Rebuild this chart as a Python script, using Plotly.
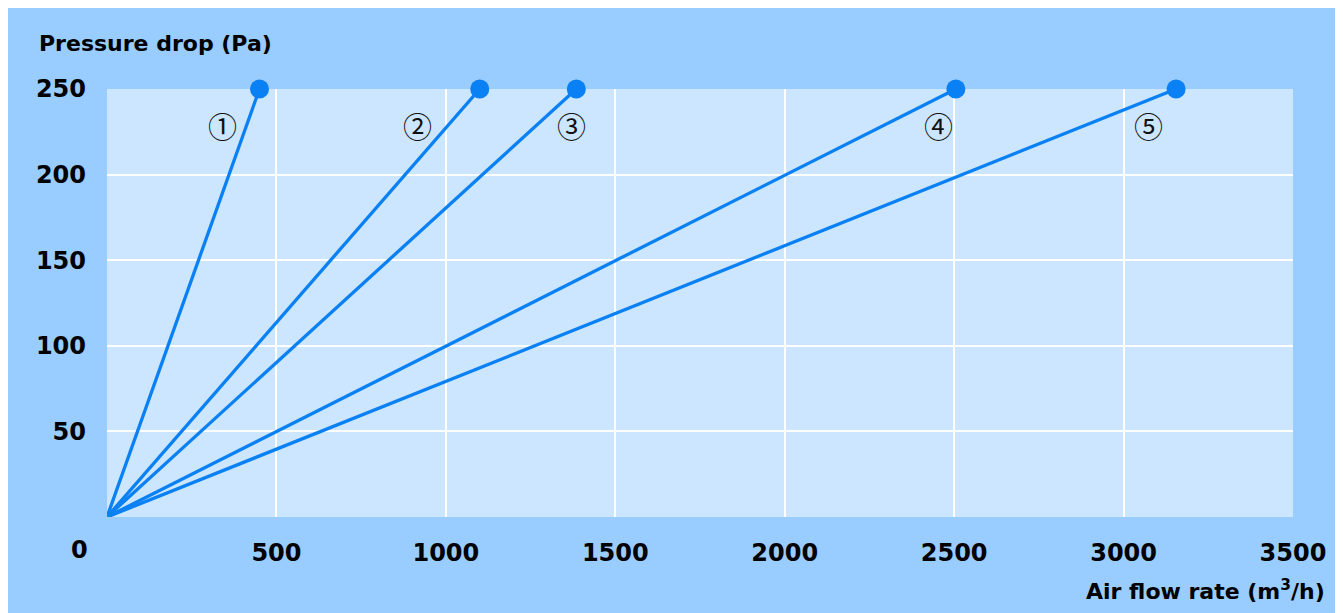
import plotly.graph_objects as go

# ---- data ----
series_labels = ["\u2460", "\u2461", "\u2462", "\u2463", "\u2464"]
start_flow = [0, 0, 0, 0, 0]
start_dp = [0, 0, 0, 0, 0]
end_flow = [450, 1100, 1385, 2505, 3155]
end_dp = [250, 250, 250, 250, 250]
label_flow = [340, 915, 1370, 2455, 3075]
label_dp = [229, 229, 229, 229, 229]
x_ticks = [500, 1000, 1500, 2000, 2500, 3000, 3500]
y_ticks = [50, 100, 150, 200, 250]

LINE = "#0a80f5"
OUTER = "#99ccff"
INNER = "#cce6ff"
FONT = "DejaVu Sans"

fig = go.Figure()
for i in range(len(series_labels)):
    fig.add_trace(go.Scatter(
        x=[start_flow[i], end_flow[i]], y=[start_dp[i], end_dp[i]],
        mode="lines", line=dict(color=LINE, width=3.3),
        showlegend=False, hoverinfo="skip", cliponaxis=False))
fig.add_trace(go.Scatter(
    x=end_flow, y=end_dp, mode="markers",
    marker=dict(color=LINE, size=19), showlegend=False, cliponaxis=False))

for i, lab in enumerate(series_labels):
    fig.add_annotation(x=label_flow[i], y=label_dp[i], text=lab, showarrow=False,
                       font=dict(family="Noto Sans CJK JP", size=29, color="#111111"))

fig.add_annotation(xref="paper", yref="paper", x=-0.059, y=1.107, xanchor="left", yanchor="middle",
                   text="Pressure drop (Pa)", showarrow=False,
                   font=dict(family=FONT, size=22, color="black", weight="bold"))
fig.add_annotation(xref="paper", yref="paper", x=1.0287, y=-0.1706, xanchor="right", yanchor="middle",
                   text="Air flow rate (m<sup>3</sup>/h)", showarrow=False,
                   font=dict(family=FONT, size=22, color="black", weight="bold"))
fig.add_annotation(xref="paper", yref="paper", x=-0.0228, y=-0.077, xanchor="center", yanchor="middle",
                   text="0", showarrow=False,
                   font=dict(family=FONT, size=24, color="black", weight="bold"))

fig.update_layout(
    width=1335, height=605,
    margin=dict(l=99, r=50, t=81, b=96),
    paper_bgcolor=OUTER, plot_bgcolor=INNER,
    font=dict(family=FONT, color="black"),
    xaxis=dict(range=[0, 3500], tickvals=x_ticks, showgrid=True, gridcolor="white", gridwidth=1.5,
               zeroline=False, showline=False, ticks="", ticklabelstandoff=19,
               tickfont=dict(family=FONT, size=24, color="black", weight="bold")),
    yaxis=dict(range=[0, 250], tickvals=y_ticks, showgrid=True, gridcolor="white", gridwidth=1.5,
               zeroline=False, showline=False, ticks="", ticklabelstandoff=20,
               tickfont=dict(family=FONT, size=24, color="black", weight="bold")),
)

fig.write_html("out.html")
